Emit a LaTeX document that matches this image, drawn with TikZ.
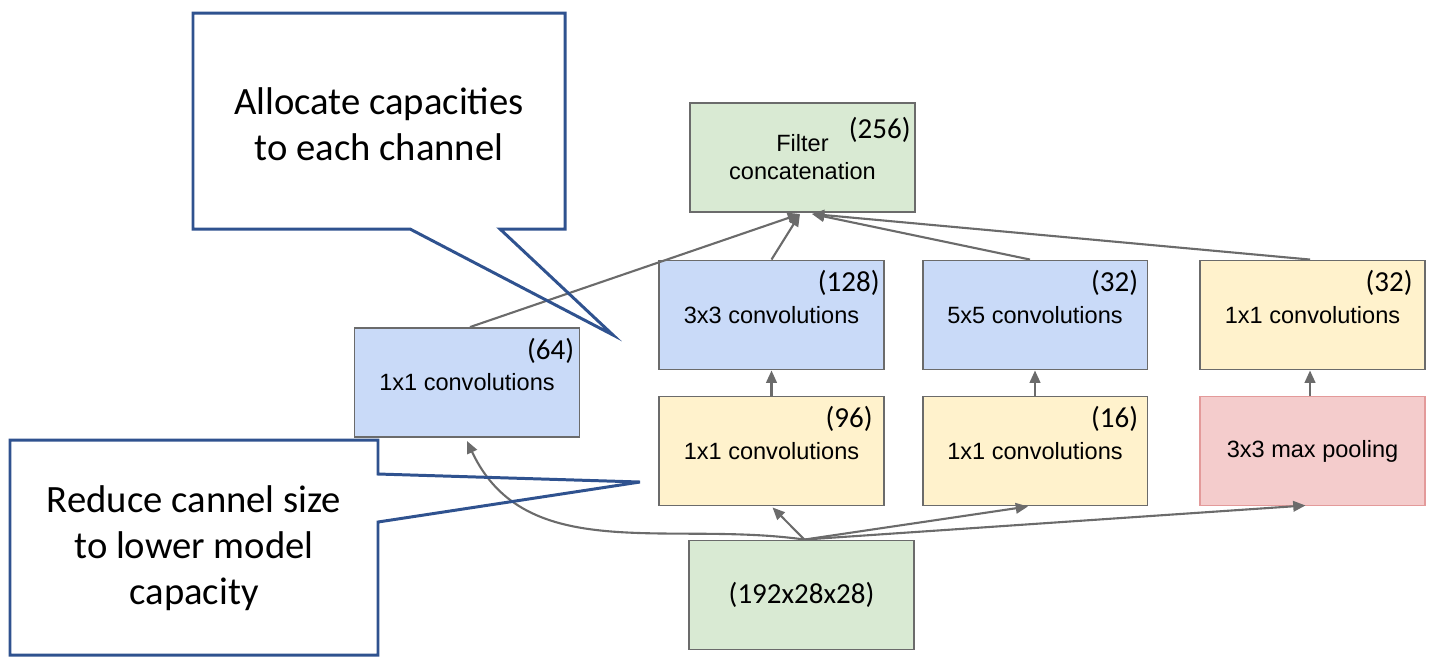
\documentclass[tikz,border=0pt]{standalone}
\usepackage{fontspec}
\setmainfont{Liberation Sans}
\newfontfamily\calfont{Carlito}
\usetikzlibrary{arrows.meta,calc}
\definecolor{gfill}{HTML}{D9EAD3}
\definecolor{bfill}{HTML}{C9DAF8}
\definecolor{yfill}{HTML}{FFF2CC}
\definecolor{rfill}{HTML}{F4CCCC}
\definecolor{rline}{HTML}{E39A9A}
\definecolor{gline}{HTML}{6B6B6B}
\definecolor{callblue}{HTML}{2F528F}
\begin{document}
\begin{tikzpicture}[x=0.02cm,y=-0.02cm,
  box/.style={draw=gline,line width=1.1pt,minimum width=4.5cm,minimum height=2.18cm,inner sep=0pt,align=center,font=\fontsize{13.4}{16}\selectfont},
  gbox/.style={box,fill=gfill},
  bbox/.style={box,fill=bfill},
  ybox/.style={box,fill=yfill},
  rbox/.style={box,fill=rfill,draw=rline},
  num/.style={inner sep=0pt,anchor=base east,font=\calfont\fontsize{16.5}{19}\selectfont},
  conn/.style={draw=gline,line width=1.2pt,-{Triangle[length=7pt,width=6pt]}},
  callout/.style={draw=callblue,line width=1.7pt,line join=miter},
  calltext/.style={align=center,inner sep=0pt,font=\calfont\fontsize{22}{26.3}\selectfont}
]
\useasboundingbox (0,0) rectangle (1432,664);
% boxes
\node[gbox,font=\fontsize{13.4}{16}\selectfont] (concat) at (802.5,157.5) {Filter\\concatenation};
\node[bbox] (c3) at (771.5,315) {3x3 convolutions};
\node[bbox] (c5) at (1035,315) {5x5 convolutions};
\node[ybox] (c32) at (1312.5,315) {1x1 convolutions};
\node[bbox] (c64) at (467,382.5) {1x1 convolutions};
\node[ybox] (r96) at (771.5,451) {1x1 convolutions};
\node[ybox] (r16) at (1035,451) {1x1 convolutions};
\node[rbox] (pool) at (1312.5,451) {\raisebox{-2pt}{3x3 max pooling}};
\node[gbox,font=\calfont\fontsize{16.5}{19}\selectfont] (inp) at (801.5,595) {\raisebox{-3pt}{(192x28x28)}};
% numbers
\node[num] (n256) at ($(concat.north east)+(-5,36)$) {(256)};
\node[num] (n128) at ($(c3.north east)+(-5,32)$) {(128)};
\node[num] (n32a) at ($(c5.north east)+(-10,32)$) {(32)};
\node[num] (n32b) at ($(c32.north east)+(-13,32)$) {(32)};
\node[num] (n64) at ($(c64.north east)+(-6,32)$) {(64)};
\node[num] (n96) at ($(r96.north east)+(-12,32)$) {(96)};
\node[num] (n16) at ($(r16.north east)+(-10,32)$) {(16)};
% connectors
\coordinate (src) at ($(inp.north)+(3,0)$);
\coordinate (tl) at ($(concat.south)+(-2.5,1)$);
\coordinate (tr) at ($(concat.south)+(9.5,1)$);
\draw[conn] (src) to[out=172,in=-65] ($(c64.south)+(0,3)$);
\draw[conn] (src) -- ($(r96.south)+(1,1)$);
\draw[conn] (src) -- ($(r16.south)+(-7,0)$);
\draw[conn] (src) -- ($(pool.south)+(-7,-1)$);
\draw[conn] (r96.north) -- (c3.south);
\draw[conn] (r16.north) -- (c5.south);
\draw[conn] ($(pool.north)+(-2.5,0)$) -- ($(c32.south)+(-2.5,0)$);
\draw[conn] ($(c64.north)+(3,0)$) -- (tl);
\draw[conn] (c3.north) -- (tl);
\draw[conn] ($(c5.north)+(-5,0)$) -- (tr);
\draw[conn] ($(c32.north)+(-2.5,0)$) -- (tr);
% callouts
\draw[callout] (193,13) -- (565,13) -- (565,229) -- (500,229) -- (613,335) -- (410,229) -- (193,229) -- cycle;
\node[calltext] (t1) at (379,124) {Allocate capacities\\to each channel};
\draw[callout] (10,440) -- (378,440) -- (378,474) -- (640,482) -- (378,522) -- (378,655) -- (10,655) -- cycle;
\node[calltext] (t2) at (194,548) {Reduce cannel size\\to lower model\\capacity};
\end{tikzpicture}
\end{document}
